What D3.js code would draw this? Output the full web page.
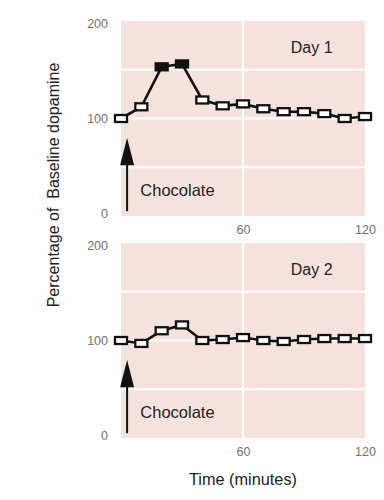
<!DOCTYPE html>
<meta charset="utf-8">
<head>
  <script src="https://d3js.org/d3.v7.min.js"></script>
</head>
<style>
  body { margin: 0; background: #fff; }
  text { font-family: "Liberation Sans", Arial, sans-serif; }
  .tick text { fill: #707070; font-size: 12.5px; }
</style>
<body>
<svg></svg>
<script>

// time points (minutes)
let minutes = [0, 10, 20, 30, 40, 50, 60, 70, 80, 90, 100, 110, 120];
// percent of baseline dopamine
let day1 = [100, 112, 153, 156, 119, 113, 115, 110, 107, 107, 105, 100, 102];
let day2 = [100, 97, 110, 116, 100, 101, 103, 100, 99, 101, 102, 102, 102];
// time points drawn with filled markers
let day1Filled = [20, 30];
let day2Filled = [];
let panelLabels = ["Day 1", "Day 2"];
let yTicks = [0, 100, 200];
let xTicks = [60, 120];
let gridY = [50, 100, 150];
let gridX = [60];

let width = 384, height = 500;
let svg = d3.select("svg").attr("width", width).attr("height", height);

let x = d3.scaleLinear().domain([0, 120]).range([121, 365]);

let panels = [
  {values: day1, filled: day1Filled, label: panelLabels[0], top: 21, bottom: 216},
  {values: day2, filled: day2Filled, label: panelLabels[1], top: 243, bottom: 438}
];

panels.forEach(function(p) {
  let y = d3.scaleLinear().domain([0, 200]).range([p.bottom, p.top]);
  let g = svg.append("g");

  // pink panel
  g.append("rect")
    .attr("x", x(0)).attr("y", y(200))
    .attr("width", x(120) - x(0)).attr("height", y(0) - y(200))
    .attr("fill", "#f5e2dd");

  // white grid lines
  g.selectAll(".gy").data(gridY).enter().append("line")
    .attr("x1", x(0)).attr("x2", x(120))
    .attr("y1", d => y(d)).attr("y2", d => y(d))
    .attr("stroke", "#fff").attr("stroke-width", 2);
  g.selectAll(".gx").data(gridX).enter().append("line")
    .attr("x1", d => x(d)).attr("x2", d => x(d))
    .attr("y1", y(0)).attr("y2", y(200))
    .attr("stroke", "#fff").attr("stroke-width", 2);

  // axes (labels only)
  let ya = g.append("g")
    .attr("transform", "translate(" + (x(0) - 13) + ",0)")
    .call(d3.axisLeft(y).tickValues(yTicks).tickSize(0).tickPadding(0));
  ya.select(".domain").remove();
  ya.selectAll(".tick text")
    .attr("dy", d => d == 200 ? "0.55em" : d == 0 ? "0.1em" : "0.32em");

  let xa = g.append("g")
    .attr("transform", "translate(0," + (y(0) + 7) + ")")
    .call(d3.axisBottom(x).tickValues(xTicks).tickSize(0).tickPadding(2));
  xa.select(".domain").remove();

  // chocolate arrow
  g.append("line")
    .attr("x1", x(3)).attr("x2", x(3))
    .attr("y1", y(5)).attr("y2", y(55))
    .attr("stroke", "#111").attr("stroke-width", 2);
  g.append("path")
    .attr("d", "M" + (x(3) - 7) + "," + y(52) + "L" + x(3) + "," + y(80) + "L" + (x(3) + 7) + "," + y(52) + "Z")
    .attr("fill", "#111");
  g.append("text")
    .attr("x", x(9.5)).attr("y", y(21))
    .attr("font-size", 16.5).attr("fill", "#222")
    .text("Chocolate");

  g.append("text")
    .attr("x", x(83.5)).attr("y", y(167))
    .attr("font-size", 16).attr("fill", "#222")
    .text(p.label);

  // data line
  let pts = minutes.map((m, i) => [m, p.values[i]]);
  g.append("path")
    .datum(pts)
    .attr("d", d3.line().x(d => x(d[0])).y(d => y(d[1])))
    .attr("fill", "none").attr("stroke", "#111").attr("stroke-width", 2.6);

  g.selectAll(".pt").data(pts).enter().append("rect")
    .attr("x", d => x(d[0]) - 6).attr("y", d => y(d[1]) - 3.5)
    .attr("width", 12).attr("height", 7)
    .attr("fill", d => p.filled.indexOf(d[0]) >= 0 ? "#111" : "#fff")
    .attr("stroke", "#111").attr("stroke-width", 2.3);
});

// axis titles
svg.append("text")
  .attr("transform", "translate(59,185) rotate(-90)")
  .attr("text-anchor", "middle")
  .attr("font-size", 16).attr("fill", "#222")
  .attr("xml:space", "preserve")
  .style("white-space", "pre")
  .text("Percentage of  Baseline dopamine");

svg.append("text")
  .attr("x", x(60)).attr("y", 485)
  .attr("text-anchor", "middle")
  .attr("font-size", 16.3).attr("fill", "#222")
  .text("Time (minutes)");

</script>
</body>
